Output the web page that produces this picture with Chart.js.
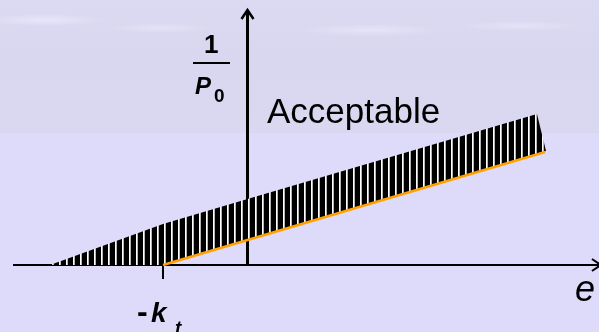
<!DOCTYPE html>
<html>
<head>
<meta charset="utf-8">
<script src="https://cdn.jsdelivr.net/npm/chart.js@4"></script>
<style>
    html, body { margin: 0; padding: 0; }
    body {
        width: 599px; height: 332px; overflow: hidden; position: relative;
        background: #dedaf9;
        font-family: "Liberation Sans", Arial, sans-serif;
    }
    #topBand {
        position: absolute; left: 0; top: 0; width: 599px; height: 133px;
        background:
            radial-gradient(ellipse 60px 6px at 45px 20px, rgba(236,234,252,.8), rgba(236,234,252,0)),
            radial-gradient(ellipse 50px 5px at 160px 28px, rgba(234,232,250,.7), rgba(234,232,250,0)),
            radial-gradient(ellipse 70px 6px at 370px 30px, rgba(236,234,252,.7), rgba(236,234,252,0)),
            radial-gradient(ellipse 60px 5px at 520px 26px, rgba(234,232,250,.7), rgba(234,232,250,0)),
            linear-gradient(#dcd9f2, #d9d6ef 40%, #dad7f0);
    }
    #wrap { position: absolute; left: 0; top: 0; width: 599px; height: 332px; }
    .lbl { position: absolute; color: #000; white-space: nowrap; line-height: 1; }
</style>
</head>
<body>
<div id="topBand"></div>
<div id="wrap"><canvas id="chart" width="599" height="332"></canvas></div>

<div class="lbl" style="left:204px;top:31px;font-size:26px;font-weight:bold;">1</div>
<div style="position:absolute;left:193px;top:62px;width:37px;height:2px;background:#000;"></div>
<div class="lbl" style="left:195px;top:74px;font-size:24px;font-weight:bold;font-style:italic;">P</div>
<div class="lbl" style="left:214px;top:86px;font-size:19px;font-weight:bold;">0</div>
<div class="lbl" style="left:267px;top:93px;font-size:35px;">Acceptable</div>
<div class="lbl" style="left:575px;top:271px;font-size:36px;font-style:italic;">e</div>
<div class="lbl" style="left:137px;top:295px;font-size:32px;font-weight:bold;">-</div>
<div class="lbl" style="left:151px;top:299px;font-size:28px;font-weight:bold;font-style:italic;">k</div>
<div class="lbl" style="left:175px;top:318px;font-size:19px;font-weight:bold;font-style:italic;">t</div>

<script>
// axis frame (e on x, 1/P0 on y); -k_t sits at x = -1
const KT = -1;
const X_RANGE = [-2.929, 4.160];
const Y_RANGE = [-0.67, 2.65];
const AXIS_X = [-2.775, 4.183];
const AXIS_Y_TOP = 2.55;

// hatched "acceptable" band, outline in drawing order
const bandX = [-2.337, -1, 0, 3.426, 3.533, KT, -2.337];
const bandY = [0, 0.41, 0.66, 1.51, 1.14, 0, 0];

// orange boundary line starting at -k_t
const lowerX = [KT, 3.521];
const lowerY = [0, 1.13];

const toPoints = (xs, ys) => xs.map((v, i) => ({ x: v, y: ys[i] }));

function makeHatch(ctx) {
    const c = document.createElement('canvas');
    c.width = 7; c.height = 1;
    const g = c.getContext('2d');
    g.fillStyle = '#000';
    g.fillRect(0, 0, 7, 1);
    g.fillStyle = '#ffffff';
    g.fillRect(3, 0, 1, 1);
    g.fillStyle = '#b4b4b4';
    g.fillRect(4, 0, 1, 1);
    return ctx.createPattern(c, 'repeat');
}

const axesPlugin = {
    id: 'axes',
    beforeDatasetsDraw(chart) {
        const { ctx, scales: { x, y } } = chart;
        const x0 = x.getPixelForValue(0);
        const y0 = y.getPixelForValue(0);
        const xEnd = x.getPixelForValue(AXIS_X[1]);
        const yTop = y.getPixelForValue(AXIS_Y_TOP);
        ctx.save();
        ctx.strokeStyle = '#000';
        ctx.lineCap = 'butt';

        // horizontal axis + arrow
        ctx.lineWidth = 2;
        ctx.beginPath();
        ctx.moveTo(x.getPixelForValue(AXIS_X[0]), y0);
        ctx.lineTo(xEnd, y0);
        ctx.moveTo(xEnd - 9, y0 - 6);
        ctx.lineTo(xEnd, y0);
        ctx.lineTo(xEnd - 9, y0 + 6);
        ctx.stroke();

        // -k_t tick
        const xk = x.getPixelForValue(KT);
        ctx.beginPath();
        ctx.moveTo(xk, y0);
        ctx.lineTo(xk, y0 + 14);
        ctx.stroke();

        // vertical axis + arrow
        ctx.lineWidth = 3;
        ctx.beginPath();
        ctx.moveTo(x0, y0 + 1);
        ctx.lineTo(x0, yTop + 1);
        ctx.stroke();
        ctx.lineWidth = 2.5;
        ctx.beginPath();
        ctx.moveTo(x0 - 6, yTop + 9);
        ctx.lineTo(x0, yTop);
        ctx.lineTo(x0 + 6, yTop + 9);
        ctx.stroke();
        ctx.restore();
    }
};

const canvas = document.getElementById('chart');
const chart = new Chart(canvas, {
    type: 'scatter',
    data: {
        datasets: [
            {
                label: 'boundary',
                data: toPoints(lowerX, lowerY),
                showLine: true,
                borderColor: '#ffa200',
                borderWidth: 2.5,
                pointRadius: 0,
                fill: false,
            },
            {
                label: 'acceptable',
                data: toPoints(bandX, bandY),
                showLine: true,
                borderColor: 'rgba(0,0,0,0)',
                borderWidth: 0,
                backgroundColor: makeHatch(canvas.getContext('2d')),
                pointRadius: 0,
                fill: 'shape',
            },
        ],
    },
    options: {
        responsive: false,
        animation: false,
        events: [],
        layout: { padding: 0 },
        plugins: { legend: { display: false }, tooltip: { enabled: false } },
        scales: {
            x: { type: 'linear', display: false, min: X_RANGE[0], max: X_RANGE[1] },
            y: { type: 'linear', display: false, min: Y_RANGE[0], max: Y_RANGE[1] },
        },
    },
    plugins: [axesPlugin],
});
</script>
</body>
</html>
